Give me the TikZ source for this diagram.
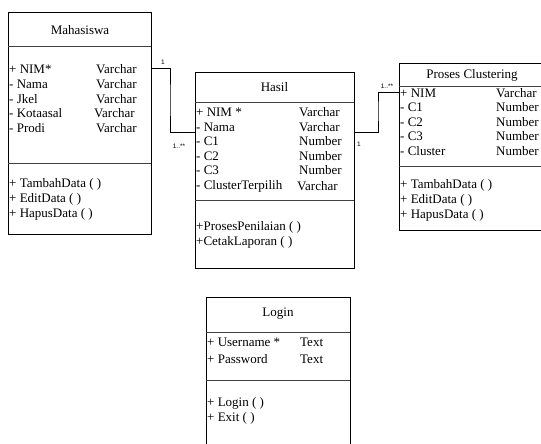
\documentclass[tikz,border=0pt]{standalone}
\usepackage{fontspec}
\setmainfont{Liberation Serif}
\newfontfamily\lblfont{Liberation Sans}
\begin{document}
\begin{tikzpicture}[x=1pt,y=-1pt,
  box/.style={draw=black,line width=0.8pt,fill=white},
  sep/.style={draw=black!75,line width=1pt},
  ttl/.style={font=\fontsize{13}{14}\selectfont,inner sep=0pt},
  txt/.style={font=\fontsize{13}{14}\selectfont,anchor=west,inner sep=0pt},
  conn/.style={draw=black,line width=0.9pt},
  mult/.style={font=\lblfont\fontsize{6.5}{7}\selectfont,inner sep=0pt}]
\useasboundingbox (0,0) rectangle (541,444);
\begin{scope}
\clip (0,0) rectangle (541,444);
% ---------- Mahasiswa ----------
\draw[box] (8,12) rectangle (151,234);
\draw[sep] (8,47) -- (151,47);
\draw[sep] (8,163) -- (151,163);
\node[ttl] (mtitle) at (80,30) {Mahasiswa};
\node[txt] (m1) at (9,69) {+ NIM*};
\node[txt] (m2) at (9,84) {- Nama};
\node[txt] (m3) at (9,99) {- Jkel};
\node[txt] (m4) at (9,113) {- Kotaasal};
\node[txt] (m5) at (9,128) {- Prodi};
\node[txt] (mt1) at (96,69) {Varchar};
\node[txt] (mt2) at (96,84) {Varchar};
\node[txt] (mt3) at (96,99) {Varchar};
\node[txt] (mt4) at (94,113) {Varchar};
\node[txt] (mt5) at (96,128) {Varchar};
\node[txt] (mm1) at (9,184) {+ TambahData ( )};
\node[txt] (mm2) at (9,199) {+ EditData ( )};
\node[txt] (mm3) at (9,214) {+ HapusData ( )};
% ---------- Hasil ----------
\draw[box] (195,72) rectangle (354,268);
\draw[sep] (195,102) -- (354,102);
\draw[sep] (195,200) -- (354,200);
\node[ttl] (htitle) at (274.5,87) {Hasil};
\node[txt] (h1) at (196,112) {+ NIM *};
\node[txt] (h2) at (196,127) {- Nama};
\node[txt] (h3) at (196,141) {- C1};
\node[txt] (h4) at (196,156) {- C2};
\node[txt] (h5) at (196,170) {- C3};
\node[txt] (h6) at (196,186) {- ClusterTerpilih};
\node[txt] (ht1) at (299,112) {Varchar};
\node[txt] (ht2) at (299,127) {Varchar};
\node[txt] (ht3) at (299,141) {Number};
\node[txt] (ht4) at (299,156) {Number};
\node[txt] (ht5) at (299,170) {Number};
\node[txt] (ht6) at (297,186) {Varchar};
\node[txt] (hm1) at (196,227) {+ProsesPenilaian ( )};
\node[txt] (hm2) at (196,242) {+CetakLaporan ( )};
% ---------- Proses Clustering ----------
\draw[box] (399,63) rectangle (548,230);
\draw[sep] (399,87) -- (548,87);
\draw[sep] (399,166) -- (548,166);
\node[ttl] (ptitle) at (472,75) {Proses Clustering};
\node[txt] (p1) at (400,93) {+ NIM};
\node[txt] (p2) at (400,107) {- C1};
\node[txt] (p3) at (400,122) {- C2};
\node[txt] (p4) at (400,136) {- C3};
\node[txt] (p5) at (400,151) {- Cluster};
\node[txt] (pt1) at (496,93) {Varchar};
\node[txt] (pt2) at (496,107) {Number};
\node[txt] (pt3) at (496,122) {Number};
\node[txt] (pt4) at (496,136) {Number};
\node[txt] (pt5) at (496,151) {Number};
\node[txt] (pm1) at (400,185) {+ TambahData ( )};
\node[txt] (pm2) at (400,200) {+ EditData ( )};
\node[txt] (pm3) at (400,215) {+ HapusData ( )};
% ---------- Login ----------
\draw[box] (206,297) rectangle (350,450);
\draw[sep] (206,332) -- (350,332);
\draw[sep] (206,380) -- (350,380);
\node[ttl] (ltitle) at (278,314) {Login};
\node[txt] (l1) at (207,342) {+ Username *};
\node[txt] (l2) at (207,359) {+ Password};
\node[txt] (lt1) at (300,342) {Text};
\node[txt] (lt2) at (300,359) {Text};
\node[txt] (lm1) at (207,403) {+ Login ( )};
\node[txt] (lm2) at (207,418) {+ Exit ( )};
\end{scope}
% ---------- connectors ----------
\coordinate (mr) at (151,68);
\coordinate (hl) at (195,132);
\coordinate (hr) at (354,132);
\coordinate (pl) at (399,92);
\draw[conn] (mr) -| (170,100) |- (hl);
\draw[conn] (hr) -| (378,110) |- (pl);
\node[mult] (c1a) at (163,62) {1};
\node[mult] (c1b) at (179,146) {1..**};
\node[mult] (c2a) at (359,144) {1};
\node[mult] (c2b) at (387,86) {1..**};
\end{tikzpicture}
\end{document}
